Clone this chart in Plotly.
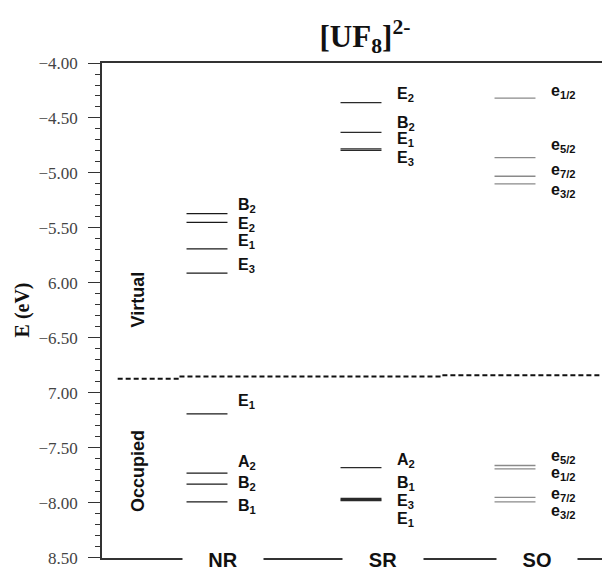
import plotly.graph_objects as go

# ---------------- data ----------------
methods = ["NR", "SR", "SO"]

nr_levels = [-5.37, -5.45, -5.69, -5.91, -7.19, -7.73, -7.83, -7.99]
nr_labels = ["B<sub>2</sub>", "E<sub>2</sub>", "E<sub>1</sub>", "E<sub>3</sub>",
             "E<sub>1</sub>", "A<sub>2</sub>", "B<sub>2</sub>", "B<sub>1</sub>"]
nr_label_y = [-5.30, -5.47, -5.62, -5.84, -7.08, -7.63, -7.82, -8.03]

sr_levels = [-4.36, -4.63, -4.78, -4.795, -7.68, -7.96, -7.97, -7.98]
sr_labels = ["E<sub>2</sub>", "B<sub>2</sub>", "E<sub>1</sub>", "E<sub>3</sub>",
             "A<sub>2</sub>", "B<sub>1</sub>", "E<sub>3</sub>", "E<sub>1</sub>"]
sr_label_y = [-4.29, -4.55, -4.70, -4.87, -7.61, -7.82, -7.99, -8.15]

so_levels = [-4.32, -4.86, -5.03, -5.10, -7.66, -7.69, -7.95, -7.99]
so_labels = ["e<sub>1/2</sub>", "e<sub>5/2</sub>", "e<sub>7/2</sub>", "e<sub>3/2</sub>",
             "e<sub>5/2</sub>", "e<sub>1/2</sub>", "e<sub>7/2</sub>", "e<sub>3/2</sub>"]
so_label_y = [-4.26, -4.75, -4.98, -5.16, -7.58, -7.73, -7.92, -8.08]

# HOMO/LUMO separator (per method)
sep_y = [-6.87, -6.85, -6.84]

y_tickvals = [-4.0, -4.5, -5.0, -5.5, -6.0, -6.5, -7.0, -7.5, -8.0, -8.5]
y_ticktext = ["\u22124.00", "\u22124.50", "\u22125.00", "\u22125.50", "6.00",
              "\u22126.50", "7.00", "\u22127.50", "\u22128.00", "8.50"]

# ---------------- layout constants ----------------
PAGE_OFF = 8          # default body margin of the html page
W, H = 610 - PAGE_OFF, 567 - PAGE_OFF
HALF = 0.133          # half width of a level line (column units)
LABEL_DX = [0.188, 0.221, 0.221]
SEP_X = [-0.58, -0.18, 1.51, 2.55]
XRANGE = [-0.6818, 2.6169]
YRANGE = [-8.501, -4.0]
COL_STYLE = [dict(color="#1a1a1a", width=1.2),
             dict(color="#2a2a2a", width=1.3),
             dict(color="#8a8a8a", width=1.3)]
SANS = "Liberation Sans"
SERIF = "Liberation Serif"

fig = go.Figure()

all_levels = [nr_levels, sr_levels, so_levels]
all_labels = [nr_labels, sr_labels, so_labels]
all_label_y = [nr_label_y, sr_label_y, so_label_y]

for i, levels in enumerate(all_levels):
    xs, ys = [], []
    for e in levels:
        xs += [i - HALF, i + HALF, None]
        ys += [e, e, None]
    fig.add_trace(go.Scatter(x=xs, y=ys, mode="lines", line=COL_STYLE[i],
                             hoverinfo="skip", showlegend=False))
    for lab, ly in zip(all_labels[i], all_label_y[i]):
        fig.add_annotation(x=i + LABEL_DX[i], y=ly, text=lab, showarrow=False,
                           xanchor="left", yanchor="middle",
                           font=dict(family=SANS, size=16, color="#111", weight="bold"))

# dashed separator
sx, sy = [], []
for k, yv in enumerate(sep_y):
    sx += [SEP_X[k], SEP_X[k + 1]]
    sy += [yv, yv]
fig.add_trace(go.Scatter(x=sx, y=sy, mode="lines",
                         line=dict(color="#111", width=2, dash="5px,3px"),
                         hoverinfo="skip", showlegend=False))

# method labels on bottom axis (white boxes break the axis line)
METHOD_DX = [0.107, 0.143, 0.14]
for i, m in enumerate(methods):
    fig.add_annotation(x=i + METHOD_DX[i], y=-8.5, text=m, showarrow=False,
                       xanchor="center", yanchor="middle", width=80,
                       bgcolor="white", borderpad=0, yshift=-2,
                       font=dict(family=SANS, size=20, color="#111", weight="bold"))

# region labels
fig.add_annotation(x=-0.448, y=-6.15, text="Virtual", textangle=-90, showarrow=False,
                   xanchor="center", yanchor="middle",
                   font=dict(family=SANS, size=18, color="#111", weight="bold"))
fig.add_annotation(x=-0.448, y=-7.71, text="Occupied", textangle=-90, showarrow=False,
                   xanchor="center", yanchor="middle",
                   font=dict(family=SANS, size=18, color="#111", weight="bold"))

# y-axis title
fig.add_annotation(xref="paper", x=(22 - 102) / 508, y=-6.25, text="E (eV)",
                   textangle=-90, showarrow=False, xanchor="center", yanchor="middle",
                   font=dict(family=SERIF, size=20, color="#111", weight="bold"))

fig.update_layout(
    width=W, height=H,
    margin=dict(l=102 - PAGE_OFF, r=0, t=63 - PAGE_OFF, b=9),
    paper_bgcolor="white", plot_bgcolor="white",
    title=dict(text="[UF<sub>8</sub>]<sup>2-</sup>", x=(365 - PAGE_OFF) / W,
               xanchor="center", y=1 - (36 - PAGE_OFF) / H, yanchor="middle",
               xref="container", yref="container",
               font=dict(family=SERIF, size=31, color="#111", weight="bold")),
    xaxis=dict(range=XRANGE, showticklabels=False, ticks="", showgrid=False,
               zeroline=False, showline=True, mirror=True, linecolor="#333",
               linewidth=1.5, fixedrange=True),
    yaxis=dict(range=YRANGE, tickvals=y_tickvals, ticktext=y_ticktext,
               ticks="outside", ticklen=12, tickwidth=1.2, tickcolor="#333",
               minor=dict(dtick=0.1, ticks="outside", ticklen=5, tickwidth=1.2,
                          tickcolor="#333", showgrid=False),
               showgrid=False, zeroline=False, showline=True, linecolor="#333",
               linewidth=1.5, ticklabelstandoff=7, ticklabeloverflow="allow",
               tickfont=dict(family=SERIF, size=17, color="#444"), fixedrange=True),
)

fig.write_html("out.html")
